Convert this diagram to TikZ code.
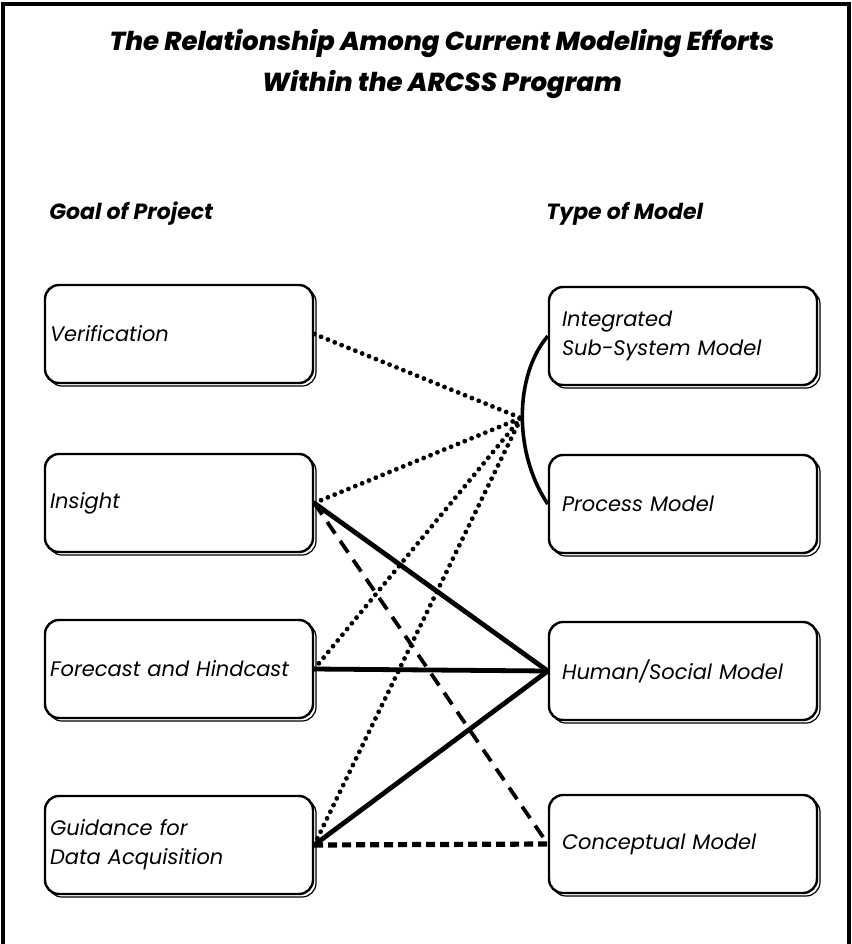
\documentclass[tikz,border=0pt]{standalone}
\usepackage{fontspec}
\setmainfont{Poppins}
\newfontfamily\titlefont{Poppins ExtraBold Italic}
\usetikzlibrary{shadows}
\tikzset{box/.style = {draw, line width = 1.2pt, rounded corners = 7pt, fill = white,
                       minimum width = 134pt, minimum height = 49pt, align = left,
                       font = \fontsize{10.5}{14.5}\selectfont\itshape,
                       general shadow = {shadow xshift = 1.5pt, shadow yshift = -1.5pt,
                                         draw, fill = white, line width = 0.6pt}}}
\tikzset{goal/.style = {box, inner xsep = 2.5pt, text width = 129pt}}
\tikzset{model/.style = {box, inner xsep = 6.5pt, text width = 121pt}}
\tikzset{dotl/.style = {line width = 2.4pt, line cap = round, dash pattern = on 0pt off 3.7pt}}
\tikzset{solidl/.style = {line width = 2.4pt}}
\tikzset{dashl/.style = {line width = 1.9pt, dash pattern = on 7pt off 4.5pt}}
\tikzset{head/.style = {font = \fontsize{11}{14}\selectfont\bfseries\itshape, anchor = base west, inner sep = 0}}

\begin{document}
\begin{tikzpicture}[x = 0.5pt, y = -0.5pt]
          \useasboundingbox (0, 0) rectangle (852, 944);
          \draw [line width = 1.7pt] (3, 944) -- (3, 4) -- (849, 4) -- (849, 944);
          \node [font = \fontsize{13}{20.5}\selectfont\titlefont, align = center]
            (title) at (442, 64) {The Relationship Among Current Modeling Efforts\\Within the ARCSS Program};
          \node [head] (goal) at (49, 219) {Goal of Project};
          \node [head] (type) at (546, 219) {Type of Model};
          \node [goal] (verif) at (179, 334) {Verification};
          \node [goal] (insight) at (179, 503) {Insight};
          \node [goal] (forecast) at (179, 669) {Forecast and Hindcast};
          \node [goal] (guidance) at (179, 845) {Guidance for\\Data Acquisition};
          \node [model] (integ) at (683, 336) {Integrated\\Sub-System Model};
          \node [model] (process) at (683, 504) {Process Model};
          \node [model] (human) at (683, 671) {Human/Social Model};
          \node [model] (concept) at (683, 844) {Conceptual Model};
          \coordinate (jct) at (521, 418);
          \foreach \g in {verif, insight, forecast, guidance}{
            \draw [dotl] (\g.east) -- (jct);
          }
          \foreach \g in {insight, forecast, guidance}{
            \draw [solidl] (\g.east) -- (human.west);
          }
          \draw [dashl] (insight.east) -- (concept.west);
          \draw [dashl, line width = 2.6pt, dash pattern = on 4.5pt off 2.5pt] (guidance.east) -- (concept.west);
          \draw [line width = 1.8pt] (integ.west) .. controls +(-34, 40) and +(-34, -50) .. (process.west);
        \end{tikzpicture}
\end{document}
